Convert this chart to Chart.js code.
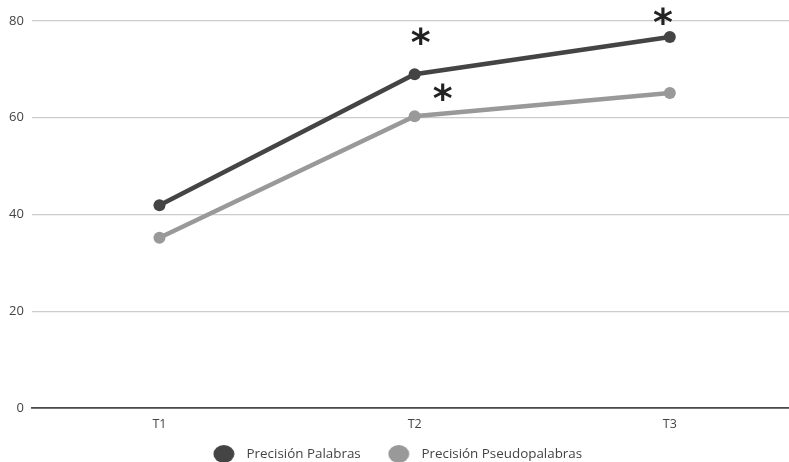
<!DOCTYPE html>
<html>
<head>
<meta charset="utf-8">
<script src="https://cdn.jsdelivr.net/npm/chart.js@4.4.1/dist/chart.umd.min.js"></script>
<style>
html,body{margin:0;padding:0;background:#fff;overflow:hidden;}
#wrap{width:789px;height:462px;position:relative;}
</style>
</head>
<body>
<div id="wrap"><canvas id="c"></canvas></div>
<script>
const categories = ["T1", "T2", "T3"];
const seriesNames = ["Precisión Palabras", "Precisión Pseudopalabras"];
const palabras = [41.9, 69.0, 76.7];
const pseudopalabras = [35.2, 60.3, 65.1];
const yTicks = [0, 20, 40, 60, 80];
// significance marks: [series index, category index]
const asterisks = [[0, 1], [1, 1], [0, 2]];

const colors = ["#444444", "#999999"];
const markOffsets = {"0-1": [6, -36], "1-1": [28, -22], "0-2": [-7, -19]};

function legendDot(color) {
  const c = document.createElement("canvas");
  c.width = 22; c.height = 18;
  const g = c.getContext("2d");
  g.fillStyle = color;
  g.beginPath();
  g.ellipse(11, 9, 10.5, 9, 0, 0, Math.PI * 2);
  g.fill();
  return c;
}
const legendDots = colors.map(legendDot);

const asteriskPlugin = {
  id: "asterisks",
  afterDatasetsDraw(chart) {
    const ctx = chart.ctx;
    ctx.save();
    ctx.fillStyle = "#222";
    ctx.font = "bold 38px 'DejaVu Sans'";
    ctx.textAlign = "center";
    ctx.textBaseline = "alphabetic";
    asterisks.forEach(([s, i]) => {
      const pt = chart.getDatasetMeta(s).data[i];
      const off = markOffsets[s + "-" + i];
      ctx.fillText("*", pt.x + off[0], pt.y + off[1] + 17);
    });
    ctx.restore();
  }
};

const seriesData = [palabras, pseudopalabras];
new Chart(document.getElementById("c"), {
  type: "line",
  data: {
    datasets: seriesData.map((vals, k) => ({
      label: seriesNames[k],
      data: vals.map((v, i) => ({x: i + 1, y: v})),
      borderColor: colors[k],
      backgroundColor: colors[k],
      pointBackgroundColor: colors[k],
      pointBorderColor: colors[k],
      pointBorderWidth: 0,
      pointStyle: "circle",
      borderWidth: 4.5,
      pointRadius: 6,
      tension: 0
    }))
  },
  options: {
    responsive: true,
    maintainAspectRatio: false,
    animation: false,
    layout: {autoPadding: false, padding: {top: 21, right: 0, left: 1, bottom: -8.65}},
    plugins: {
      legend: {
        position: "bottom",
        labels: {
          usePointStyle: true,
          pointStyleWidth: 32,
          boxHeight: 13,
          padding: 22,
          color: "#444",
          font: {family: "'Open Sans'", size: 13.4},
          generateLabels(chart) {
            return chart.data.datasets.map((ds, k) => ({
              text: ds.label,
              pointStyle: legendDots[k],
              fillStyle: colors[k],
              strokeStyle: colors[k],
              lineWidth: 0,
              fontColor: "#444",
              datasetIndex: k,
              hidden: false
            }));
          }
        }
      },
      tooltip: {enabled: false}
    },
    scales: {
      x: {
        type: "linear",
        min: 0.5,
        max: 3.467,
        afterBuildTicks(scale) { scale.ticks = categories.map((c, i) => ({value: i + 1})); },
        afterFit(scale) {
          scale.height = 17.35; scale.paddingLeft = 0; scale.paddingRight = 0;
          scale._computeLabelArea = () => undefined;
        },
        ticks: {
          callback: (v) => categories[v - 1],
          color: "#444",
          font: {family: "'Open Sans'", size: 12.5},
          padding: 9,
          maxRotation: 0
        },
        grid: {display: false, drawTicks: false},
        border: {display: true, color: "#4a4a4a", width: 1.8}
      },
      y: {
        min: 0,
        max: 80,
        afterBuildTicks(scale) { scale.ticks = yTicks.map(v => ({value: v})); },
        afterFit(scale) { scale.paddingTop = 0; scale.paddingBottom = 0; },
        ticks: {
          color: "#444",
          font: {family: "'Open Sans'", size: 13},
          padding: 8
        },
        grid: {color: "#cccccc", lineWidth: 1.2, drawTicks: false},
        border: {display: false}
      }
    }
  },
  plugins: [asteriskPlugin]
});
</script>
</body>
</html>
